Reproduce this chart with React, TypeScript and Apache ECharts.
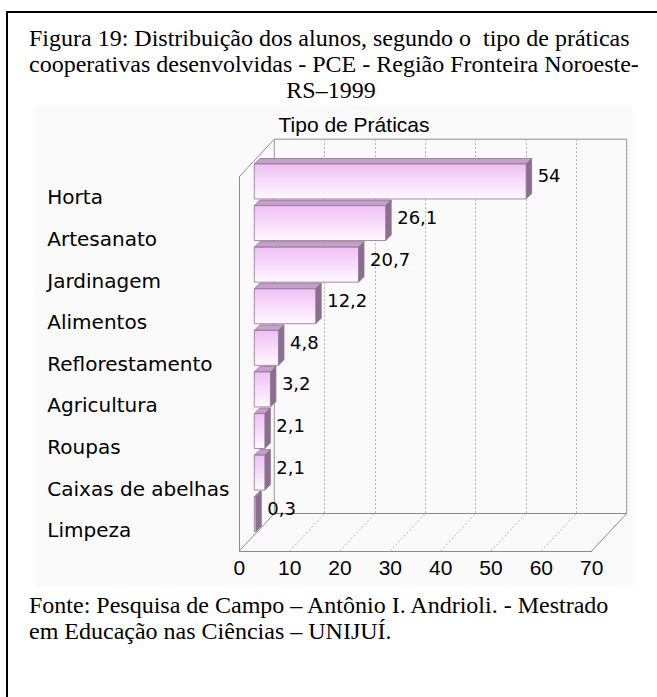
import React, { useEffect, useRef } from "react";
import * as echarts from "echarts";

const categories = [
  "Horta",
  "Artesanato",
  "Jardinagem",
  "Alimentos",
  "Reflorestamento",
  "Agricultura",
  "Roupas",
  "Caixas de abelhas",
  "Limpeza",
];
const values = [54, 26.1, 20.7, 12.2, 4.8, 3.2, 2.1, 2.1, 0.3];
const xTicks = [0, 10, 20, 30, 40, 50, 60, 70];

const captionLines = [
  "Figura 19: Distribuição dos alunos, segundo o  tipo de práticas",
  "cooperativas desenvolvidas - PCE - Região Fronteira Noroeste-",
  "RS–1999",
];
const chartTitle = "Tipo de Práticas";
const sourceLines = [
  "Fonte: Pesquisa de Campo – Antônio I. Andrioli. - Mestrado",
  "em Educação nas Ciências – UNIJUÍ.",
];

const fmt = (v: number) => String(v).replace(".", ",");

export default function App() {
  const ref = useRef<HTMLDivElement>(null);
  useEffect(() => {
    if (!ref.current) return;
    const chart = echarts.init(ref.current, null, { renderer: "svg" });

    const FRONT = { left: 239.3, top: 176.7, width: 352.4, height: 374.3 };
    const DX = 35;
    const DY = -37.5;
    const BACK = { left: FRONT.left + DX, top: FRONT.top + DY, width: FRONT.width, height: FRONT.height };
    const BAR_DX = 15;
    const BAR_DY = -16;
    const BD = 5.5;
    const wallColor = "#8c8c8c";
    const xMin = xTicks[0];
    const xMax = xTicks[xTicks.length - 1];

    const option: any = {
      animation: false,
      backgroundColor: "#ffffff",
      graphic: [
        { type: "rect", z: -10, shape: { x: 35, y: 105, width: 598, height: 482 }, style: { fill: "#fafafa" } },
        { type: "line", shape: { x1: 7, y1: 12, x2: 657, y2: 12 }, style: { stroke: "#000", lineWidth: 2 } },
        { type: "line", shape: { x1: 7, y1: 11, x2: 7, y2: 697 }, style: { stroke: "#000", lineWidth: 2 } },
        ...captionLines.map((t, i) => ({
          type: "text",
          x: i === 2 ? 331 : 29,
          y: 38 + i * 26,
          style: {
            text: t,
            font: '24px "Liberation Serif", "Times New Roman", serif',
            fill: "#000",
            align: i === 2 ? "center" : "left",
            verticalAlign: "middle",
          },
        })),
        {
          type: "text",
          x: 354,
          y: 124,
          style: {
            text: chartTitle,
            font: '21px "Liberation Sans", Arial, sans-serif',
            fill: "#000",
            align: "center",
            verticalAlign: "middle",
          },
        },
        ...sourceLines.map((t, i) => ({
          type: "text",
          x: 29,
          y: 605 + i * 26,
          style: {
            text: t,
            font: '24px "Liberation Serif", "Times New Roman", serif',
            fill: "#000",
            align: "left",
            verticalAlign: "middle",
          },
        })),
      ],
      grid: [
        {
          left: BACK.left,
          top: BACK.top,
          width: BACK.width,
          height: BACK.height,
          show: true,
          borderColor: wallColor,
          borderWidth: 1,
          backgroundColor: "transparent",
        },
        { left: FRONT.left, top: FRONT.top, width: FRONT.width, height: FRONT.height },
      ],
      xAxis: [
        {
          gridIndex: 0,
          type: "value",
          min: xMin,
          max: xMax,
          interval: 10,
          axisLine: { show: false },
          axisTick: { show: false },
          axisLabel: { show: false },
          splitLine: { show: true, lineStyle: { color: "#b4b4b4", type: [2, 2], width: 1 } },
        },
        {
          gridIndex: 1,
          type: "value",
          min: xMin,
          max: xMax,
          interval: 10,
          axisLine: { show: true, lineStyle: { color: wallColor, width: 1 } },
          axisTick: { show: false },
          splitLine: { show: false },
          axisLabel: {
            color: "#000",
            fontSize: 21,
            fontFamily: '"Liberation Sans", Arial, sans-serif',
            margin: 6,
          },
        },
      ],
      yAxis: [
        { gridIndex: 0, type: "value", min: 0, max: 1, show: false },
        {
          gridIndex: 1,
          type: "category",
          data: categories,
          inverse: true,
          axisLine: { show: true, lineStyle: { color: wallColor, width: 1 } },
          axisTick: { show: false },
          splitLine: { show: false },
          axisLabel: {
            color: "#000",
            fontSize: 20,
            fontFamily: '"DejaVu Sans", sans-serif',
            align: "left",
            margin: 192,
          },
        },
      ],
      series: [
        {
          type: "custom",
          xAxisIndex: 1,
          yAxisIndex: 1,
          clip: false,
          z: 1,
          silent: true,
          data: xTicks.map((t) => [t, 0]),
          encode: { x: 0, y: 1 },
          renderItem: (params: any, api: any) => {
            const t = api.value(0);
            const cs = params.coordSys;
            const px = api.coord([t, 0])[0];
            const yb = cs.y + cs.height;
            const edge = t === xMin || t === xMax;
            const children: any[] = [
              {
                type: "line",
                shape: { x1: px, y1: yb, x2: px + DX, y2: yb + DY },
                style: edge
                  ? { stroke: wallColor, lineWidth: 1 }
                  : { stroke: "#b4b4b4", lineWidth: 1, lineDash: [2, 2] },
              },
            ];
            if (t === xMin) {
              children.push({
                type: "line",
                shape: { x1: cs.x, y1: cs.y, x2: cs.x + DX, y2: cs.y + DY },
                style: { stroke: wallColor, lineWidth: 1 },
              });
            }
            return { type: "group", children };
          },
        },
        {
          type: "custom",
          xAxisIndex: 1,
          yAxisIndex: 1,
          clip: false,
          z: 3,
          data: values.map((v, i) => [v, i]),
          encode: { x: 0, y: 1 },
          renderItem: (params: any, api: any) => {
            const v = api.value(0);
            const idx = api.value(1);
            const p0 = api.coord([0, idx]);
            const p1 = api.coord([v, idx]);
            const band = api.size([0, 1])[1];
            const h = band * 0.84;
            const x0 = p0[0] + BAR_DX;
            const x1 = p1[0] + BAR_DX;
            const yc = p0[1] + BAR_DY;
            const yt = yc - h / 2;
            const yb = yc + h / 2;
            const stroke = "#8a7290";
            return {
              type: "group",
              children: [
                {
                  type: "polygon",
                  shape: { points: [[x0, yt], [x1, yt], [x1 + BD, yt - BD], [x0 + BD, yt - BD]] },
                  style: { fill: "#c79fcb", stroke, lineWidth: 0.8 },
                },
                {
                  type: "polygon",
                  shape: { points: [[x1, yt], [x1 + BD, yt - BD], [x1 + BD, yb - BD], [x1, yb]] },
                  style: { fill: "#8e6e90", stroke, lineWidth: 0.8 },
                },
                {
                  type: "rect",
                  shape: { x: x0, y: yt, width: Math.max(x1 - x0, 0.5), height: h },
                  style: {
                    fill: new echarts.graphic.LinearGradient(0, 0, 0, 1, [
                      { offset: 0, color: "#efbff5" },
                      { offset: 1, color: "#fff9ff" },
                    ]),
                    stroke,
                    lineWidth: 0.8,
                  },
                },
                {
                  type: "text",
                  x: x1 + BD + 6,
                  y: yc - 5.5,
                  style: {
                    text: fmt(v),
                    fill: "#000",
                    font: '18px "DejaVu Sans", sans-serif',
                    align: "left",
                    verticalAlign: "middle",
                  },
                },
              ],
            };
          },
        },
      ],
    };

    chart.setOption(option);
    return () => chart.dispose();
  }, []);

  return (
    <div
      ref={ref}
      style={{ position: "absolute", left: 0, top: 0, width: 657, height: 697, background: "#fff" }}
    />
  );
}
